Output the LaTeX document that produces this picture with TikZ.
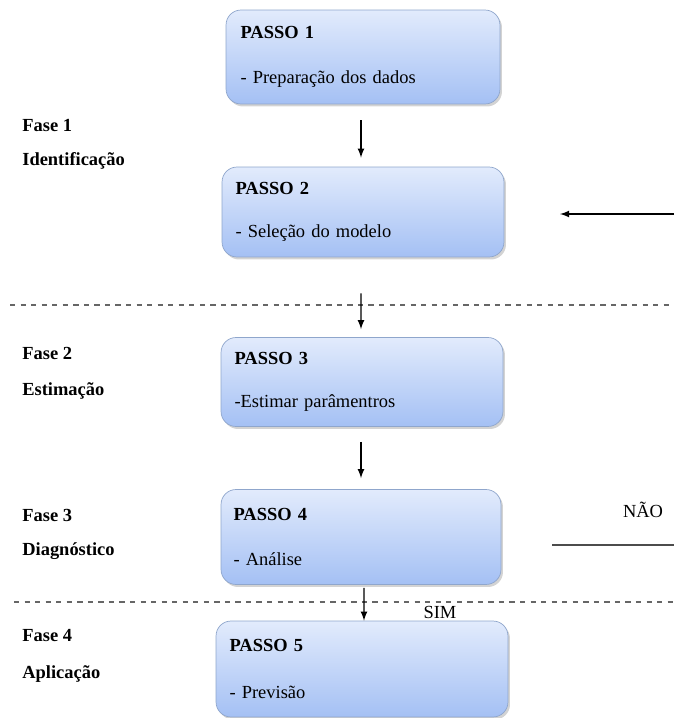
\documentclass[tikz,border=0pt]{standalone}
\usepackage{fontspec}
\setmainfont{Liberation Serif}
\usetikzlibrary{shadows}
\definecolor{topo}{HTML}{E2EBFC}
\definecolor{base}{HTML}{A4C0F4}
\definecolor{borda}{HTML}{8FA6CC}
\begin{document}
\begin{tikzpicture}[x=0.02cm, y=-0.02cm]
\tikzset{passo/.style={draw=borda, rounded corners=0.3cm, top color=topo, bottom color=base,
  drop shadow={opacity=0.35, shadow xshift=0.04cm, shadow yshift=-0.05cm}, align=left, inner xsep=0.22cm,
  font=\fontsize{10.5}{12}\selectfont},
  fase/.style={anchor=west, font=\fontsize{10.5}{12}\selectfont\bfseries, inner xsep=0pt},
  seta/.style={-latex, thick}}
\useasboundingbox (0,0) rectangle (674,718);
\node[passo, minimum width=5.48cm, minimum height=1.88cm, text width=4.9cm] (P1) at (363,57) {\textbf{PASSO 1}\\[0.48cm]- Preparação dos dados};
\node[passo, minimum width=5.64cm, minimum height=1.80cm, text width=5.1cm] (P2) at (363,212) {\textbf{PASSO 2}\\[0.45cm]- Seleção do modelo};
\node[passo, minimum width=5.64cm, minimum height=1.78cm, text width=5.1cm] (P3) at (362,382) {\textbf{PASSO 3}\\[0.45cm]-Estimar parâmentros};
\node[passo, minimum width=5.60cm, minimum height=1.90cm, text width=5.1cm] (P4) at (361,537) {\textbf{PASSO 4}\\[0.48cm]- Análise};
\node[passo, minimum width=5.84cm, minimum height=1.92cm, text width=5.3cm] (P5) at (362,669) {\textbf{PASSO 5}\\[0.5cm]- Previsão};
\node[fase] (F1) at (22,125) {Fase 1};
\node[fase] (I1) at (22,161) {Identificação};
\node[fase] (F2) at (22,353) {Fase 2};
\node[fase] (E2) at (22,391) {Estimação};
\node[fase] (F3) at (22,515) {Fase 3};
\node[fase] (D3) at (22,551) {Diagnóstico};
\node[fase] (F4) at (22,636) {Fase 4};
\node[fase] (A4) at (22,674) {Aplicação};
\node[font=\fontsize{10.5}{12}\selectfont] (nao) at (643,510) {NÃO};
\node[font=\fontsize{10.5}{12}\selectfont] (sim) at (440,612) {SIM};
\draw[dashed, thick, gray!80!black] (10,305) -- (674,305);
\draw[dashed, thick, gray!80!black] (14,602) -- (674,602);
\coordinate (voltaA) at (674,214);
\coordinate (voltaB) at (560,214);
\coordinate (naoA) at (552,545);
\coordinate (naoB) at (674,545);
\draw[seta, shorten <=0.32cm, shorten >=0.18cm] ([xshift=-0.04cm]P1.south) -- ([xshift=-0.04cm]P2.north);
\draw[seta, shorten <=0.72cm, shorten >=0.16cm] ([xshift=-0.04cm]P2.south) -- ([xshift=-0.02cm]P3.north);
\draw[seta, shorten <=0.30cm, shorten >=0.22cm] ([xshift=-0.02cm]P3.south) -- (P4.north);
\draw[seta, shorten <=0.06cm] ([xshift=0.06cm]P4.south) -- ([xshift=0.04cm]P5.north);
\draw[seta] (voltaA) -- (voltaB);
\draw[thick, gray!60!black] (naoA) -- (naoB);
\end{tikzpicture}
\end{document}
